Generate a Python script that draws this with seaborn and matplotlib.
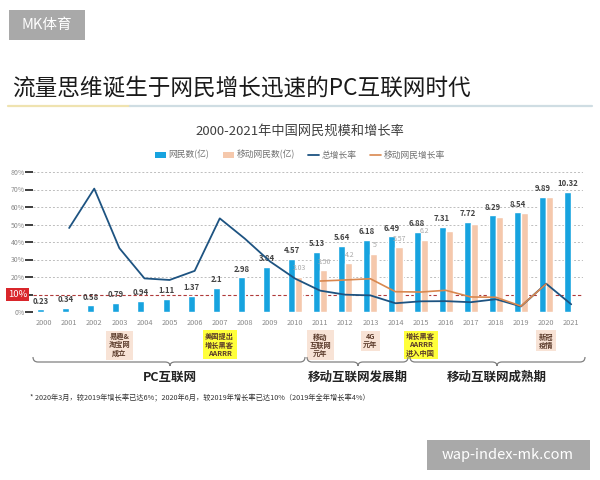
import numpy as np
import pandas as pd
import matplotlib
matplotlib.use("Agg")
import matplotlib.pyplot as plt
import seaborn as sns
from matplotlib.transforms import blended_transform_factory
from matplotlib.path import Path
from matplotlib.patches import PathPatch, Rectangle
from matplotlib.lines import Line2D

# ---------------- data ----------------
years = list(range(2000, 2022))
netizens = [0.23, 0.34, 0.58, 0.79, 0.94, 1.11, 1.37, 2.1, 2.98, 3.84, 4.57,
            5.13, 5.64, 6.18, 6.49, 6.88, 7.31, 7.72, 8.29, 8.54, 9.89, 10.32]
mobile = [np.nan] * 10 + [3.03, 3.56, 4.2, 5.0, 5.57, 6.2, 6.95, 7.53, 8.17, 8.47, 9.86, np.nan]
mobile_label_years = [2010, 2011, 2012, 2013, 2014, 2015]
mobile_label_text = ["3.03", "3.56", "4.2", "5", "5.57", "6.2"]

total_growth_years = list(range(2001, 2022))
total_growth = [48.0, 70.5, 36.5, 19.2, 18.3, 23.5, 53.5, 41.9, 28.9, 19.1, 12.2,
                9.9, 9.5, 5.0, 6.1, 6.2, 5.6, 7.3, 3.2, 16.2, 4.4]
mobile_growth_years = list(range(2011, 2021))
mobile_growth = [17.7, 18.3, 19.0, 11.6, 11.4, 12.4, 8.6, 8.4, 3.4, 16.0]

pct_ticks = [0, 10, 20, 30, 40, 50, 60, 70, 80]
pct_labels = ["0%", "", "20%", "30%", "40%", "50%", "60%", "70%", "80%"]

events_years = [2003, 2007, 2011, 2013, 2015, 2020]
events_text = ["易趣&\n淘宝网\n成立", "美国提出\n增长黑客\nAARRR", "移动\n互联网\n元年",
               "4G\n元年", "增长黑客\nAARRR\n进入中国", "新冠\n疫情"]
events_kind = ["peach", "yellow", "peach", "peach", "yellow", "peach"]

periods = ["PC互联网", "移动互联网发展期", "移动互联网成熟期"]

# ---------------- style ----------------
sns.set_theme(style="white")
plt.rcParams["font.family"] = ["Noto Sans CJK SC", "DejaVu Sans"]

BLUE = "#17A3DF"
PEACH = "#F5C8AC"
NAVY = "#1D5381"
ORANGE = "#D9884F"
GRID = "#BDBDBD"

W, H = 600, 480
fig = plt.figure(figsize=(6, 4.8), dpi=100)

def fx(px):
    return px / W

def fy(py):
    return 1 - py / H

ax = fig.add_axes([fx(33), fy(312), fx(583) - fx(33), fy(172) - fy(312)])

df = pd.DataFrame({"year": years * 2,
                   "value": netizens + mobile,
                   "type": ["网民数(亿)"] * len(years) + ["移动网民数(亿)"] * len(years)})
sns.barplot(data=df, x="year", y="value", hue="type",
            palette=[BLUE, PEACH], width=0.56, ax=ax, legend=False,
            saturation=1, zorder=2)

ax.set_xlim(-0.44, 21.47)
ax.set_ylim(0, 12)
ax.set_yticks(np.linspace(0, 12, 9))
ax.tick_params(axis="y", left=False, labelleft=False)
ax.grid(axis="y", linestyle=(0, (2, 2)), color=GRID, linewidth=0.7, zorder=0)
ax.grid(axis="x", visible=False)
ax.set_axisbelow(True)
gl = ax.get_ygridlines()
gl[1].set_color("#B03A3A")
gl[1].set_linestyle((0, (3, 2)))
gl[1].set_linewidth(0.8)
for s in ax.spines.values():
    s.set_visible(False)
ax.set_xlabel("")
ax.set_ylabel("")
ax.tick_params(axis="x", labelsize=5.3, colors="#8a8a8a", length=0, pad=5)

# bar value labels
pos = {y: i for i, y in enumerate(years)}
for y, v in zip(years, netizens):
    ax.text(pos[y] - 0.14, v + 0.32, f"{v:g}", ha="center", va="bottom",
            fontsize=5.6, fontweight="bold", color="#444444", zorder=5)
for y, t in zip(mobile_label_years, mobile_label_text):
    v = mobile[pos[y]]
    ax.text(pos[y] + 0.16, v + 0.38, t, ha="center", va="bottom",
            fontsize=5.0, color="#a8a8a8", zorder=5)

# growth lines on twin axis
ax2 = ax.twinx()
ax2.set_ylim(0, 80)
ax2.set_xlim(-0.44, 21.47)
sns.lineplot(x=[pos[y] for y in total_growth_years], y=total_growth, ax=ax2,
             color=NAVY, linewidth=1.3, legend=False)
sns.lineplot(x=[pos[y] for y in mobile_growth_years], y=mobile_growth, ax=ax2,
             color=ORANGE, linewidth=1.2, legend=False)
ax2.yaxis.tick_left()
ax2.set_yticks(pct_ticks)
ax2.set_yticklabels(pct_labels)
ax2.tick_params(axis="y", labelsize=5.0, colors="#8a8a8a", length=0, pad=6)
ax2.grid(False)
for s in ax2.spines.values():
    s.set_visible(False)
ax2.set_ylabel("")

# red 10% marker
ax2.text(-0.44 - 0.22, 10, "10%", transform=ax2.transData, ha="right", va="center",
         fontsize=6.8, color="white",
         bbox=dict(boxstyle="square,pad=0.2", fc="#D9262B", ec="none"))

# ---------------- header ----------------
fig.patches.append(Rectangle((fx(9), fy(40)), fx(85) - fx(9), fy(10) - fy(40),
                             transform=fig.transFigure, fc="#A9A9A9", ec="none"))
fig.text(fx(47), fy(25), "MK体育", ha="center", va="center", fontsize=10.5, color="white")

fig.text(fx(12), fy(88), "流量思维诞生于网民增长迅速的PC互联网时代", ha="left", va="center",
         fontsize=16.3, color="#1a1a1a")
fig.add_artist(Line2D([fx(8), fx(130)], [fy(106), fy(106)], color="#EFE3B0", lw=1.6))
fig.add_artist(Line2D([fx(130), fx(592)], [fy(106), fy(106)], color="#CFDDE3", lw=1.6))

fig.text(0.5, fy(131), "2000-2021年中国网民规模和增长率", ha="center", va="center",
         fontsize=9.5, color="#404040")

handles = [Rectangle((0, 0), 1, 1, fc=BLUE, ec="none"),
           Rectangle((0, 0), 1, 1, fc=PEACH, ec="none"),
           Line2D([], [], color=NAVY, lw=1.3),
           Line2D([], [], color=ORANGE, lw=1.2)]
labels = ["网民数(亿)", "移动网民数(亿)", "总增长率", "移动网民增长率"]
fig.legend(handles, labels, loc="center", bbox_to_anchor=(0.5, fy(155)), ncol=4,
           frameon=False, fontsize=6.3, handlelength=1.3, handleheight=0.7,
           handletextpad=0.3, columnspacing=1.5, labelcolor="#707070")

# ---------------- event boxes ----------------
bt = blended_transform_factory(ax.transData, fig.transFigure)
kind_color = {"peach": "#F8E3D6", "yellow": "#FFFF3A"}
for y, t, k in zip(events_years, events_text, events_kind):
    ax.text(pos[y], fy(333), t, transform=bt, ha="center", va="top",
            fontsize=5.2, fontweight="bold", color="#5a3a2a", linespacing=1.2,
            bbox=dict(boxstyle="square,pad=0.35", fc=kind_color[k], ec="none"),
            clip_on=False)

# ---------------- braces ----------------
def brace(x0, x1, xc, y, color="#808080"):
    up, dn, r = 5, 4, 5
    verts = [(x0, y - up), (x0, y), (x0 + r, y),
             (xc - r, y), (xc, y), (xc, y + dn),
             (xc, y + dn), (xc, y), (xc + r, y),
             (x1 - r, y), (x1, y), (x1, y - up)]
    codes = [Path.MOVETO, Path.CURVE3, Path.CURVE3,
             Path.LINETO, Path.CURVE3, Path.CURVE3,
             Path.MOVETO, Path.CURVE3, Path.CURVE3,
             Path.LINETO, Path.CURVE3, Path.CURVE3]
    v = [(fx(a), fy(b)) for a, b in verts]
    fig.add_artist(PathPatch(Path(v, codes), transform=fig.transFigure, fc="none",
                             ec=color, lw=0.9))

brace(33, 305, 170, 362)
brace(307, 408, 358, 362)
brace(410, 585, 497, 362)

fig.text(fx(170), fy(377), periods[0], ha="center", va="center", fontsize=9,
         fontweight="bold", color="#222222")
fig.text(fx(358), fy(377), periods[1], ha="center", va="center", fontsize=9,
         fontweight="bold", color="#222222")
fig.text(fx(497), fy(377), periods[2], ha="center", va="center", fontsize=9,
         fontweight="bold", color="#222222")

fig.text(fx(30), fy(398), "* 2020年3月，较2019年增长率已达6%；2020年6月，较2019年增长率已达10%（2019年全年增长率4%）",
         ha="left", va="center", fontsize=5.2, color="#333333")

# ---------------- footer watermark ----------------
fig.patches.append(Rectangle((fx(427), fy(470)), fx(590) - fx(427), fy(440) - fy(470),
                             transform=fig.transFigure, fc="#A9A9A9", ec="none"))
fig.text(fx(508), fy(455), "wap-index-mk.com", ha="center", va="center",
         fontsize=10.5, color="white")

fig.savefig("out.png", dpi=100)
